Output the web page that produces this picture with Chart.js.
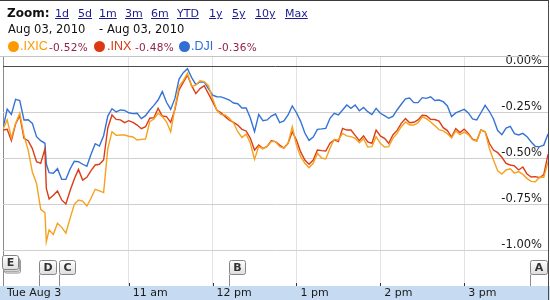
<!DOCTYPE html>
<html><head><meta charset="utf-8">
<script src="https://cdn.jsdelivr.net/npm/chart.js@4.4.1/dist/chart.umd.min.js"></script>
<style>
html,body{margin:0;padding:0;background:#fff;}
#wrap{position:relative;width:550px;height:300px;overflow:hidden;font-family:"DejaVu Sans",Verdana,sans-serif;}
#c{position:absolute;left:0;top:0;}
#frame{position:absolute;left:0;top:0;width:548px;height:299px;border-top:1px solid #3a3a3a;border-right:1px solid #4a4a4a;pointer-events:none;}
.t{position:absolute;white-space:nowrap;line-height:1;}
.lnk{color:#1c1c8e;text-decoration:underline;font-size:11px;top:8px;}
.dt{font-size:11.5px;color:#111;top:24px;}
.sym{font-family:"Liberation Sans",Arial,sans-serif;font-size:12.5px;top:40px;}
.chg{font-size:10.5px;letter-spacing:0.3px;color:#93204a;top:42px;}
.dot{position:absolute;width:11px;height:11px;border-radius:50%;top:41px;}
</style></head>
<body>
<div id="wrap">
<canvas id="c" width="550" height="300"></canvas>
<div id="frame"></div>
<div class="t" style="left:7px;top:7px;font-size:12px;font-weight:bold;color:#111;">Zoom:</div>
<div class="t lnk" style="left:55px">1d</div>
<div class="t lnk" style="left:78px">5d</div>
<div class="t lnk" style="left:99px">1m</div>
<div class="t lnk" style="left:125px">3m</div>
<div class="t lnk" style="left:151px">6m</div>
<div class="t lnk" style="left:177px">YTD</div>
<div class="t lnk" style="left:209px">1y</div>
<div class="t lnk" style="left:232px">5y</div>
<div class="t lnk" style="left:255px">10y</div>
<div class="t lnk" style="left:285px">Max</div>
<div class="t dt" style="left:8px">Aug 03, 2010</div>
<div class="t dt" style="left:99px">-</div>
<div class="t dt" style="left:107px">Aug 03, 2010</div>
<div class="dot" style="left:8px;background:#ff9900"></div>
<div class="t sym" style="left:20px;color:#ff9900">.IXIC</div>
<div class="t chg" style="left:49px">-0.52%</div>
<div class="dot" style="left:94px;background:#dc3912"></div>
<div class="t sym" style="left:107px;color:#dc3912">.INX</div>
<div class="t chg" style="left:135px">-0.48%</div>
<div class="dot" style="left:179px;background:#2f6fd4"></div>
<div class="t sym" style="left:191px;color:#2f6fd4">.DJI</div>
<div class="t chg" style="left:218px">-0.36%</div>
</div>
<script>
// minutes after 9:30 am
const times = [0,3,6,9,12,15,18,21,24,27,30,31,33,36,39,42,45,48,51,54,57,60,63,66,69,72,75,78,81,84,87,90,93,96,99,102,105,108,111,114,117,120,123,126,129,132,135,138,141,144,147,150,153,156,159,162,165,168,171,174,177,180,183,186,189,192,195,198,201,204,207,210,213,216,219,222,225,228,231,234,237,240,243,246,249,252,255,258,261,264,267,270,273,276,279,282,285,288,291,294,297,300,303,306,309,312,315,318,321,324,327,330,333,336,339,342,345,348,351,354,357,360,363,366,369,372,375,378,381,384,387,390];

// % change
const ixic = [-0.344,-0.293,-0.391,-0.312,-0.257,-0.377,-0.457,-0.576,-0.638,-0.779,-0.797,-0.955,-0.891,-0.915,-0.855,-0.877,-0.908,-0.828,-0.752,-0.728,-0.734,-0.761,-0.719,-0.670,-0.679,-0.688,-0.449,-0.357,-0.377,-0.375,-0.375,-0.382,-0.386,-0.402,-0.399,-0.397,-0.303,-0.288,-0.257,-0.275,-0.303,-0.357,-0.230,-0.109,-0.080,-0.040,-0.112,-0.103,-0.080,-0.085,-0.107,-0.176,-0.241,-0.264,-0.266,-0.284,-0.310,-0.357,-0.388,-0.370,-0.420,-0.507,-0.438,-0.449,-0.437,-0.411,-0.411,-0.438,-0.447,-0.420,-0.330,-0.429,-0.493,-0.529,-0.553,-0.529,-0.475,-0.500,-0.505,-0.447,-0.399,-0.402,-0.366,-0.380,-0.384,-0.393,-0.417,-0.395,-0.440,-0.438,-0.384,-0.420,-0.440,-0.438,-0.393,-0.366,-0.330,-0.304,-0.321,-0.321,-0.308,-0.277,-0.286,-0.304,-0.324,-0.346,-0.353,-0.368,-0.391,-0.353,-0.373,-0.359,-0.373,-0.400,-0.409,-0.348,-0.357,-0.447,-0.511,-0.569,-0.587,-0.565,-0.559,-0.582,-0.574,-0.589,-0.612,-0.627,-0.629,-0.603,-0.605,-0.520];
const inx = [-0.348,-0.344,-0.406,-0.315,-0.270,-0.393,-0.406,-0.449,-0.520,-0.529,-0.450,-0.665,-0.723,-0.703,-0.679,-0.728,-0.750,-0.678,-0.614,-0.562,-0.620,-0.605,-0.569,-0.538,-0.534,-0.511,-0.337,-0.266,-0.290,-0.293,-0.308,-0.297,-0.306,-0.321,-0.341,-0.330,-0.284,-0.281,-0.230,-0.272,-0.275,-0.306,-0.237,-0.130,-0.089,-0.050,-0.107,-0.150,-0.123,-0.107,-0.150,-0.194,-0.239,-0.255,-0.275,-0.295,-0.306,-0.321,-0.344,-0.353,-0.393,-0.457,-0.429,-0.449,-0.437,-0.406,-0.411,-0.429,-0.446,-0.420,-0.357,-0.402,-0.467,-0.511,-0.534,-0.511,-0.457,-0.460,-0.462,-0.420,-0.402,-0.411,-0.339,-0.348,-0.348,-0.377,-0.406,-0.380,-0.413,-0.420,-0.348,-0.380,-0.393,-0.420,-0.375,-0.350,-0.312,-0.286,-0.308,-0.306,-0.293,-0.268,-0.270,-0.290,-0.291,-0.299,-0.335,-0.351,-0.386,-0.341,-0.362,-0.344,-0.366,-0.397,-0.406,-0.348,-0.357,-0.420,-0.457,-0.471,-0.496,-0.529,-0.538,-0.543,-0.565,-0.549,-0.587,-0.603,-0.601,-0.607,-0.590,-0.480];
const dji = [-0.339,-0.234,-0.263,-0.181,-0.188,-0.293,-0.292,-0.312,-0.384,-0.406,-0.420,-0.533,-0.580,-0.583,-0.558,-0.616,-0.616,-0.560,-0.518,-0.520,-0.534,-0.545,-0.480,-0.422,-0.435,-0.379,-0.272,-0.232,-0.250,-0.239,-0.241,-0.254,-0.259,-0.257,-0.286,-0.270,-0.239,-0.214,-0.185,-0.139,-0.197,-0.236,-0.176,-0.071,-0.036,-0.015,-0.063,-0.101,-0.087,-0.087,-0.123,-0.158,-0.167,-0.168,-0.176,-0.185,-0.201,-0.205,-0.228,-0.228,-0.283,-0.357,-0.263,-0.297,-0.293,-0.272,-0.261,-0.308,-0.299,-0.266,-0.217,-0.254,-0.301,-0.364,-0.404,-0.386,-0.344,-0.342,-0.339,-0.284,-0.257,-0.266,-0.239,-0.212,-0.230,-0.212,-0.243,-0.225,-0.248,-0.264,-0.230,-0.257,-0.270,-0.284,-0.274,-0.239,-0.208,-0.179,-0.174,-0.199,-0.199,-0.172,-0.176,-0.167,-0.187,-0.185,-0.194,-0.217,-0.275,-0.255,-0.245,-0.236,-0.255,-0.288,-0.293,-0.254,-0.214,-0.246,-0.288,-0.351,-0.373,-0.337,-0.328,-0.368,-0.375,-0.366,-0.384,-0.413,-0.438,-0.438,-0.430,-0.370];

const xTickValues = [0, 90, 150, 210, 270, 330];
const xTickLabels = ['Tue Aug 3', '11 am', '12 pm', '1 pm', '2 pm', '3 pm'];
const yTickValues = [0, -0.25, -0.5, -0.75, -1.0];
const flagLetters = ['E', 'D', 'C', 'B', 'A'];
const flagTimes = [0, 26, 40, 162, 377];
const flagStacked = [true, false, false, false, false];

Chart.defaults.font.family = '"DejaVu Sans", Verdana, sans-serif';

function pts(vals){ return times.map((t,i)=>({x:t, y:vals[i]})); }

const decor = {
  id: 'decor',
  beforeDraw(chart){
    const {ctx, scales:{x}} = chart;
    ctx.save();
    ctx.fillStyle = '#c6dbf1';
    ctx.fillRect(0, x.top, chart.width, chart.height - x.top);
    ctx.restore();
  },
  beforeDatasetsDraw(chart){
    const {ctx, chartArea:a, scales:{x}} = chart;
    ctx.save();
    ctx.lineWidth = 1;
    ctx.strokeStyle = '#c4c4c4';
    ctx.beginPath(); ctx.moveTo(0, a.top + 0.5); ctx.lineTo(a.right, a.top + 0.5); ctx.stroke();
    ctx.strokeStyle = '#333';
    x.ticks.forEach((t, i) => {
      if (i === 0) return;
      const px = Math.round(x.getPixelForValue(t.value)) + 0.5;
      ctx.beginPath(); ctx.moveTo(px, a.bottom - 3); ctx.lineTo(px, a.bottom); ctx.stroke();
    });
    ctx.restore();
  },
  afterDatasetsDraw(chart){
    const {ctx, chartArea:a, scales:{x}} = chart;
    ctx.save();
    ctx.font = 'bold 11px "DejaVu Sans"';
    ctx.lineWidth = 1;
    flagLetters.forEach((L, i) => {
      const px = Math.round(x.getPixelForValue(flagTimes[i])) + 0.5;
      const w = Math.max(15, Math.round(ctx.measureText(L).width) + 8);
      const h = 14;
      const left = flagStacked[i] ? px - 1 : px;
      const top = flagStacked[i] ? 255.5 : 260.5;
      if (flagStacked[i]) {
        ctx.strokeStyle = '#9a9a9a';
        for (let k = 2; k >= 1; k--) {
          ctx.fillStyle = '#e6e6e6';
          ctx.beginPath(); ctx.roundRect(left + k, top + k * 1.8, w, h, 2); ctx.fill(); ctx.stroke();
        }
      } else {
        ctx.strokeStyle = '#8c8c8c';
        ctx.beginPath(); ctx.moveTo(px, top + h); ctx.lineTo(px, a.bottom); ctx.stroke();
      }
      const g = ctx.createLinearGradient(0, top, 0, top + h);
      g.addColorStop(0, '#ffffff'); g.addColorStop(1, '#dedede');
      ctx.fillStyle = g;
      ctx.strokeStyle = '#858585';
      ctx.beginPath(); ctx.roundRect(left, top, w, h, 2); ctx.fill(); ctx.stroke();
      ctx.fillStyle = '#333';
      ctx.textAlign = 'center'; ctx.textBaseline = 'middle';
      ctx.fillText(L, left + w / 2, top + h / 2 + 0.5);
    });
    ctx.restore();
  }
};

new Chart(document.getElementById('c'), {
  type: 'line',
  data: {
    datasets: [
      {label: '.IXIC', data: pts(ixic), borderColor: '#f7a11e', borderWidth: 1.4, pointRadius: 0, tension: 0},
      {label: '.INX', data: pts(inx), borderColor: '#dc3d16', borderWidth: 1.4, pointRadius: 0, tension: 0},
      {label: '.DJI', data: pts(dji), borderColor: '#3673d6', borderWidth: 1.4, pointRadius: 0, tension: 0}
    ]
  },
  options: {
    responsive: false,
    animation: false,
    devicePixelRatio: 1,
    layout: {padding: {left: 3, right: 2, top: 56, bottom: 0}},
    plugins: {legend: {display: false}, tooltip: {enabled: false}},
    scales: {
      x: {
        type: 'linear', position: 'bottom', min: 0, max: 390,
        afterBuildTicks: s => { s.ticks = xTickValues.map(v => ({value: v})); },
        afterFit: s => { s.height = 14; },
        ticks: {
          autoSkip: false, maxRotation: 0, align: 'start', labelOffset: 4, padding: 1,
          color: '#1a1a1a', font: {size: 11},
          callback: (v, i) => xTickLabels[i]
        },
        grid: {drawTicks: false, color: c => (c.tick && c.tick.value === 0) ? '#8a8a8a' : '#e3e3e3'},
        border: {display: false}
      },
      y: {
        type: 'linear', position: 'right', min: -1.19565, max: 0.05435,
        afterBuildTicks: s => { s.ticks = yTickValues.map(v => ({value: v})); },
        afterFit: s => { s.width = 0; },
        ticks: {
          mirror: true, padding: -6, labelOffset: -5,
          color: '#1a1a1a', font: {size: 11.5},
          callback: v => v.toFixed(2) + '%'
        },
        grid: {drawTicks: false, color: c => (c.tick && c.tick.value === 0) ? '#4a4a4a' : '#cfcfcf'},
        border: {display: false}
      }
    }
  },
  plugins: [decor]
});
</script>
</body></html>
